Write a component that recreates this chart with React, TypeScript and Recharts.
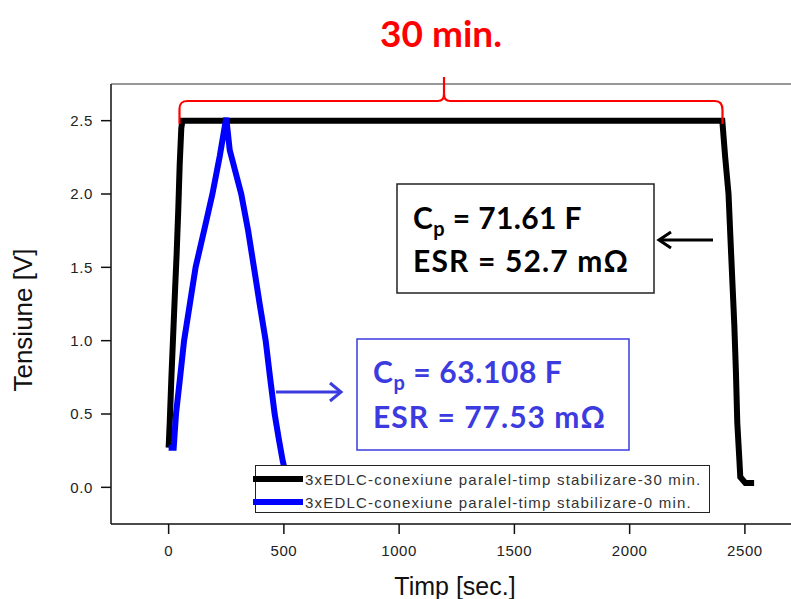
import React from 'react';
import { LineChart, Line, XAxis, YAxis, Legend } from 'recharts';

// 30 min stabilisation run (black)
const timp30 = [0, 5, 12, 20, 28, 35, 42, 48, 55, 60, 2402, 2414, 2429, 2437, 2446, 2454, 2461, 2467, 2476, 2480, 2502, 2540];
const tens30 = [0.27, 0.45, 0.75, 1.05, 1.35, 1.6, 1.9, 2.2, 2.45, 2.5, 2.5, 2.26, 2.0, 1.71, 1.39, 1.11, 0.79, 0.44, 0.19, 0.07, 0.03, 0.03];

// 0 min stabilisation run (blue)
const timp0 = [0, 22, 32, 49, 67, 91, 117, 161, 190, 222, 250, 265, 290, 315, 345, 370, 395, 421, 440, 460, 478, 495, 510];
const tens0 = [0.27, 0.27, 0.5, 0.74, 1.0, 1.24, 1.5, 1.8, 2.0, 2.26, 2.52, 2.3, 2.15, 2.0, 1.75, 1.5, 1.25, 1.0, 0.75, 0.5, 0.33, 0.18, 0.08];

const xTicks = [0, 500, 1000, 1500, 2000, 2500];
const yTicks = [0, 0.5, 1.0, 1.5, 2.0, 2.5];

const seriesNames = [
  '3xEDLC-conexiune paralel-timp stabilizare-30 min.',
  '3xEDLC-conexiune paralel-timp stabilizare-0 min.',
];
const seriesColors = ['#000000', '#0000ff'];

const data30 = timp30.map((t, i) => ({ t, v: tens30[i] }));
const data0 = timp0.map((t, i) => ({ t, v: tens0[i] }));

const BLUE = '#3b3be0';

function LegendBox() {
  return (
    <div style={{ width: 455, height: 48, border: '1.5px solid #222', background: '#fff', boxSizing: 'border-box', position: 'relative' }}>
      {seriesNames.map((name, i) => (
        <div key={name} style={{ position: 'absolute', left: -3, top: i === 0 ? 4 : 27, height: 18, display: 'flex', alignItems: 'center' }}>
          <svg width={50} height={10}>
            <line x1={0} y1={5} x2={50} y2={5} stroke={seriesColors[i]} strokeWidth={6} />
          </svg>
          <span style={{ fontFamily: 'Liberation Sans, Arial, sans-serif', fontSize: 15, letterSpacing: 1.2, color: '#333', marginLeft: 2, whiteSpace: 'nowrap' }}>{name}</span>
        </div>
      ))}
    </div>
  );
}

const tickStyle = { fontFamily: 'Liberation Sans, Arial, sans-serif', fontSize: 15, fill: '#222', letterSpacing: 0.6 };
const boxFont = { fontFamily: 'Lato, Open Sans, sans-serif', fontWeight: 700, fontSize: 30 };

export default function App() {
  return (
    <div style={{ position: 'absolute', left: 0, top: 0, width: 791, height: 599, overflow: 'hidden', background: '#fff' }}>
      <LineChart width={791} height={599} data={data30} margin={{ top: 84, right: 0, bottom: 0, left: 0 }}>
        <XAxis dataKey="t" type="number" domain={[-250, 2700]} ticks={xTicks} height={75}
          tickSize={10} tickMargin={11} tick={tickStyle}
          axisLine={{ stroke: '#111', strokeWidth: 1.5 }} tickLine={{ stroke: '#111', strokeWidth: 1.5 }}
          allowDataOverflow />
        <YAxis type="number" domain={[-0.25, 2.75]} ticks={yTicks} width={111}
          tickSize={10} tickMargin={8} tick={tickStyle} tickFormatter={(v: number) => v.toFixed(1)}
          axisLine={{ stroke: '#111', strokeWidth: 1.5 }} tickLine={{ stroke: '#111', strokeWidth: 1.5 }}
          allowDataOverflow />
        <Line data={data30} dataKey="v" name={seriesNames[0]} type="linear" stroke={seriesColors[0]}
          strokeWidth={6} dot={false} isAnimationActive={false} strokeLinejoin="miter" />
        <Line data={data0} dataKey="v" name={seriesNames[1]} type="linear" stroke={seriesColors[1]}
          strokeWidth={6} dot={false} isAnimationActive={false} strokeLinejoin="miter" />
        <Legend layout="vertical" align="center" verticalAlign="middle" content={() => <LegendBox />}
          wrapperStyle={{ position: 'absolute', left: 255, top: 465, width: 455, height: 48 }} />
      </LineChart>

      <svg width={791} height={599} style={{ position: 'absolute', left: 0, top: 0, pointerEvents: 'none' }}>
        {/* top frame */}
        <line x1={111} y1={84} x2={791} y2={84} stroke="#333" strokeWidth={1.2} />

        {/* brace + title */}
        <path d="M 179.5 124 L 179.5 109 C 179.5 103 182 101 188 101 L 438 101 C 442 101 444 99 444 94 L 444 77 M 444 94 C 444 99 446 101 450 101 L 715 101 C 720 101 722.5 104 722.5 110 L 722.5 124"
          fill="none" stroke="#ff0000" strokeWidth={2.2} />
        <text x={441} y={47} textAnchor="middle" fill="#ff0000"
          style={{ fontFamily: 'Lato, Open Sans, sans-serif', fontWeight: 700, fontSize: 37 }}>30 min.</text>

        {/* black annotation */}
        <rect x={397} y={184} width={257} height={109} fill="#fff" stroke="#222" strokeWidth={1.5} />
        <text x={413} y={229} fill="#000" style={{ ...boxFont, letterSpacing: 0.4 }}>
          C<tspan fontSize={20} dy={7}>p</tspan><tspan dy={-7}> = 71.61 F</tspan>
        </text>
        <text x={413} y={272} fill="#000" style={boxFont} textLength={215} lengthAdjust="spacing">ESR = 52.7 mΩ</text>
        <line x1={713} y1={240} x2={659} y2={240} stroke="#000" strokeWidth={3} />
        <polyline points="671,232 659,240 671,248" fill="none" stroke="#000" strokeWidth={3} />

        {/* blue annotation */}
        <rect x={357} y={339} width={272} height={111} fill="#fff" stroke={BLUE} strokeWidth={1.5} />
        <text x={373} y={383} fill={BLUE} style={{ ...boxFont, letterSpacing: 0.6 }}>
          C<tspan fontSize={20} dy={7}>p</tspan><tspan dy={-7}> = 63.108 F</tspan>
        </text>
        <text x={373} y={428} fill={BLUE} style={boxFont} textLength={232} lengthAdjust="spacing">ESR = 77.53 mΩ</text>
        <line x1={276} y1={392} x2={341} y2={392} stroke={BLUE} strokeWidth={3} />
        <polyline points="330,383 341,392 330,401" fill="none" stroke={BLUE} strokeWidth={3} />

        {/* axis titles */}
        <text x={455} y={595} textAnchor="middle" fill="#111"
          style={{ fontFamily: 'Liberation Sans, Arial, sans-serif', fontSize: 25 }}>Timp [sec.]</text>
        <text x={32} y={320} textAnchor="middle" fill="#111" transform="rotate(-90 32 320)"
          style={{ fontFamily: 'Liberation Sans, Arial, sans-serif', fontSize: 26 }}>Tensiune [V]</text>
      </svg>
    </div>
  );
}
